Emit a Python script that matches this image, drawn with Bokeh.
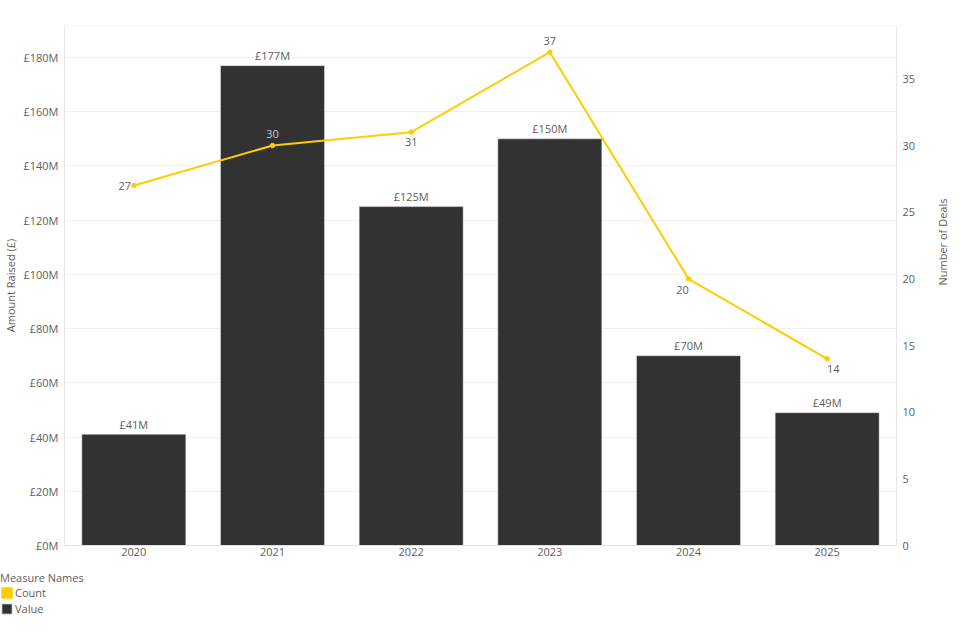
from bokeh.plotting import figure
from bokeh.layouts import column, row
from bokeh.models import (ColumnDataSource, LinearAxis, Range1d, FactorRange, FixedTicker,
                          Legend, LegendItem, Span, CustomJSTickFormatter)
from bokeh.core.properties import value
from bokeh.embed import file_html
from bokeh.resources import INLINE
import math

# ---- data ----
years = ["2020", "2021", "2022", "2023", "2024", "2025"]
amount_m = [41, 177, 125, 150, 70, 49]          # Amount Raised, £ millions
deal_count = [27, 30, 31, 37, 20, 14]           # Number of Deals
amount_labels = ["£41M", "£177M", "£125M", "£150M", "£70M", "£49M"]
left_ticks = [0, 20, 40, 60, 80, 100, 120, 140, 160, 180]
right_ticks = [0, 5, 10, 15, 20, 25, 30, 35]
legend_names = ["Count", "Value"]

# ---- label placement (styles) ----
count_dx = [-9, 0, 0, 0, -6, 6]
count_dy = [0, -12, 10, -11, 11, 10]
count_colors = ["#605E5C", "#C8C8C8", "#605E5C", "#605E5C", "#605E5C", "#605E5C"]

FONT = "Open Sans"
TXT = "#605E5C"
BAR = "#323232"
YEL = "#FFCC00"
LEFT_MAX = 191.8
RIGHT_MAX = 39

p = figure(width=960, height=567, x_range=FactorRange(*years, range_padding=0),
           y_range=Range1d(0, LEFT_MAX), output_backend="svg", toolbar_location=None,
           min_border_left=63, min_border_right=63, min_border_top=25, min_border_bottom=22)
p.extra_y_ranges = {"deals": Range1d(0, RIGHT_MAX)}
p.outline_line_color = None
p.background_fill_color = "white"
p.border_fill_color = "white"

bars = ColumnDataSource(dict(year=years, amount=amount_m, lbl=amount_labels))
line = ColumnDataSource(dict(year=years, count=deal_count, lbl=[str(c) for c in deal_count],
                             dx=count_dx, dy=count_dy, col=count_colors))

p.vbar(x="year", top="amount", width=0.75, source=bars, fill_color=BAR,
       line_color="#E8E8E8", line_width=0.5)
p.text(x="year", y="amount", text="lbl", source=bars, text_align="center",
       text_baseline="middle", y_offset=-10, text_font=value(FONT),
       text_font_size="11px", text_color=TXT)

p.line(x="year", y="count", source=line, y_range_name="deals", line_color=YEL, line_width=2)
p.scatter(x="year", y="count", source=line, y_range_name="deals", size=4.5,
          fill_color=YEL, line_color=YEL)
p.text(x="year", y="count", text="lbl", source=line, y_range_name="deals",
       x_offset="dx", y_offset="dy", text_align="center", text_baseline="middle",
       text_font=value(FONT), text_font_size="11px", text_color="col")

p.add_layout(Span(location=LEFT_MAX, dimension="width", line_color="#F0F0F0", line_width=1))

# grids
p.xgrid.grid_line_color = None
p.ygrid.grid_line_color = "#F0F0F0"
p.ygrid.ticker = FixedTicker(ticks=left_ticks)


def style_axis(ax, standoff):
    ax.major_label_text_font = FONT
    ax.major_label_text_font_size = "11px"
    ax.major_label_text_color = TXT
    ax.major_label_standoff = standoff
    ax.major_tick_line_color = None
    ax.minor_tick_line_color = None
    ax.major_tick_out = 0
    ax.major_tick_in = 0
    ax.minor_tick_out = 0
    ax.minor_tick_in = 0
    ax.axis_label_text_font = FONT
    ax.axis_label_text_font_style = "normal"
    ax.axis_label_text_font_size = "11px"
    ax.axis_label_text_color = TXT


# left axis
ya = p.yaxis[0]
ya.ticker = FixedTicker(ticks=left_ticks)
ya.formatter = CustomJSTickFormatter(code="return '£' + tick + 'M';")
ya.axis_label = "Amount Raised (£)"
style_axis(ya, 6)
ya.axis_label_standoff = 2
ya.axis_line_color = "#E6E6E6"

# right axis
ra = LinearAxis(y_range_name="deals", ticker=FixedTicker(ticks=right_ticks),
                axis_label="Number of Deals")
style_axis(ra, 6)
ra.axis_label_orientation = math.pi / 2
ra.axis_label_standoff = 24
ra.axis_line_color = "#E6E6E6"
p.add_layout(ra, "right")

# x axis
xa = p.xaxis[0]
style_axis(xa, 2)
xa.axis_line_color = "#E0E0E0"

# ---- legend panel (separate small figure without axes) ----
leg = figure(width=300, height=56, x_range=Range1d(0, 1), y_range=Range1d(0, 1),
             x_axis_type=None, y_axis_type=None,
             output_backend="svg", toolbar_location=None,
             min_border_left=0, min_border_right=0, min_border_top=3, min_border_bottom=0)
leg.grid.visible = False
leg.outline_line_color = None
# swatch renderers: their single mark lies outside the visible range, only the legend shows
r_count = leg.vbar(x=[-5], top=[-5], width=0.5, fill_color=YEL, line_color=YEL)
r_value = leg.vbar(x=[-5], top=[-5], width=0.5, fill_color=BAR, line_color="#E8E8E8")
legend = Legend(items=[LegendItem(label=legend_names[0], renderers=[r_count]),
                       LegendItem(label=legend_names[1], renderers=[r_value])],
                title="Measure Names", orientation="vertical", location="top_left")
legend.title_text_font = FONT
legend.title_text_font_style = "normal"
legend.title_text_font_size = "11px"
legend.title_text_color = TXT
legend.title_standoff = 0
legend.label_text_font = FONT
legend.label_text_font_size = "11px"
legend.label_text_color = TXT
legend.glyph_width = 13
legend.glyph_height = 13
legend.label_height = 13
legend.label_standoff = 2
legend.spacing = 1
legend.padding = 0
legend.margin = 0
legend.border_line_color = None
legend.background_fill_alpha = 0
leg.add_layout(legend, "center")

layout = column(p, row(leg), spacing=0)
open("out.html", "w").write(file_html(layout, INLINE))
